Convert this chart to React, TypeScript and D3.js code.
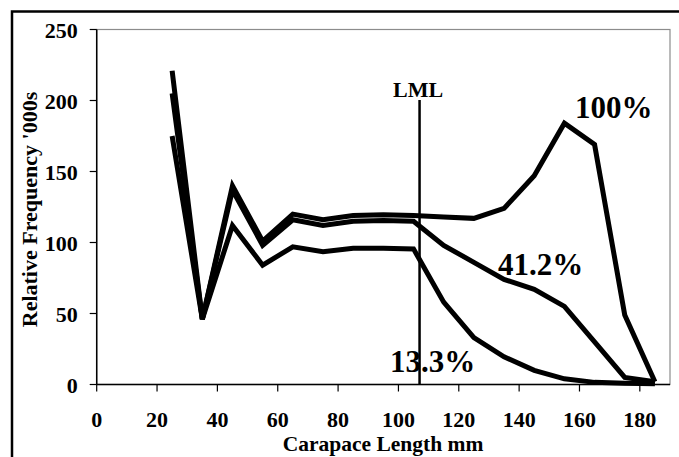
import React from "react";
import * as d3 from "d3";

const lengths = [25, 35, 45, 55, 65, 75, 85, 95, 105, 115, 125, 135, 145, 155, 165, 175, 185];
const series100 = [221, 46, 140, 101, 120, 116, 119, 119.5, 119, 118, 117, 124, 147, 184, 169, 49, 2];
const series412 = [205, 46, 137, 98, 116, 112, 115, 115.5, 115, 98, 86, 74, 67, 55, 30, 5, 2];
const series133 = [175, 46, 112, 84, 97, 93.5, 96, 96, 95.5, 58, 33, 19.5, 10, 4, 1.5, 0.8, 0.5];
const seriesLabels = ["100%", "41.2%", "13.3%"];
const xTicks = [0, 20, 40, 60, 80, 100, 120, 140, 160, 180];
const yTicks = [0, 50, 100, 150, 200, 250];
const lml = 107;

const W = 679;
const H = 457;
const left = 96.7;
const right = 670;
const top = 29.5;
const bottom = 384.5;
const textStyle: React.CSSProperties = {
  fontFamily: "Liberation Serif, Tinos, Times New Roman, Times, serif",
  fontWeight: 700,
};

export default function App() {
  const x = d3.scaleLinear().domain([0, 190]).range([left, right]);
  const y = d3.scaleLinear().domain([0, 250]).range([bottom, top]);
  const line = d3
    .line<number>()
    .x((_, i) => x(lengths[i]))
    .y((d) => y(d));

  const allSeries = [series133, series412, series100];

  return (
    <svg
      width={W}
      height={H}
      style={{ position: "absolute", left: 0, top: 0, background: "#fff", ...textStyle }}
    >
      <rect x={0} y={0} width={W} height={H} fill="#fff" />
      {/* outer frame */}
      <rect x={12} y={11.5} width={720} height={520} fill="none" stroke="#000" strokeWidth={2.5} />
      {/* plot area border */}
      <rect x={left} y={top} width={right - left} height={bottom - top} fill="none" stroke="#8c8c8c" strokeWidth={1.2} />
      <line x1={left} x2={left} y1={top} y2={bottom} stroke="#000" strokeWidth={1.5} />
      <line x1={left} x2={right} y1={bottom} y2={bottom} stroke="#000" strokeWidth={1.5} />
      {/* y ticks */}
      {yTicks.map((t) => (
        <g key={"y" + t}>
          <line x1={left - 7} x2={left} y1={y(t)} y2={y(t)} stroke="#000" strokeWidth={1.2} />
          <text x={left - 19} y={y(t) + 8} textAnchor="end" fontSize={22} style={textStyle}>
            {t}
          </text>
        </g>
      ))}
      {/* x ticks */}
      {xTicks.map((t) => (
        <g key={"x" + t}>
          <line x1={x(t)} x2={x(t)} y1={bottom} y2={bottom + 7} stroke="#000" strokeWidth={1.2} />
          <text x={x(t)} y={427} textAnchor="middle" fontSize={22} style={textStyle}>
            {t}
          </text>
        </g>
      ))}
      {/* series */}
      {allSeries.map((s, i) => (
        <path
          key={"s" + i}
          d={line(s) || ""}
          fill="none"
          stroke="#000"
          strokeWidth={5}
          strokeLinejoin="miter"
          strokeLinecap="butt"
        />
      ))}
      {/* series labels */}
      <text x={575} y={118} fontSize={31} style={textStyle}>
        {seriesLabels[0]}
      </text>
      <text x={498} y={275} fontSize={31} style={textStyle}>
        {seriesLabels[1]}
      </text>
      <text x={390} y={372} fontSize={31} style={textStyle}>
        {seriesLabels[2]}
      </text>
      {/* LML */}
      <text x={x(lml) - 1.5} y={97} textAnchor="middle" fontSize={22} style={textStyle}>
        LML
      </text>
      <line x1={x(lml)} x2={x(lml)} y1={100} y2={bottom} stroke="#000" strokeWidth={2.5} />
      {/* axis titles */}
      <text transform="translate(37,209.5) rotate(-90)" textAnchor="middle" fontSize={22} style={textStyle}>
        Relative Frequency '000s
      </text>
      <text x={383} y={451} textAnchor="middle" fontSize={21.5} style={textStyle}>
        Carapace Length mm
      </text>
    </svg>
  );
}
